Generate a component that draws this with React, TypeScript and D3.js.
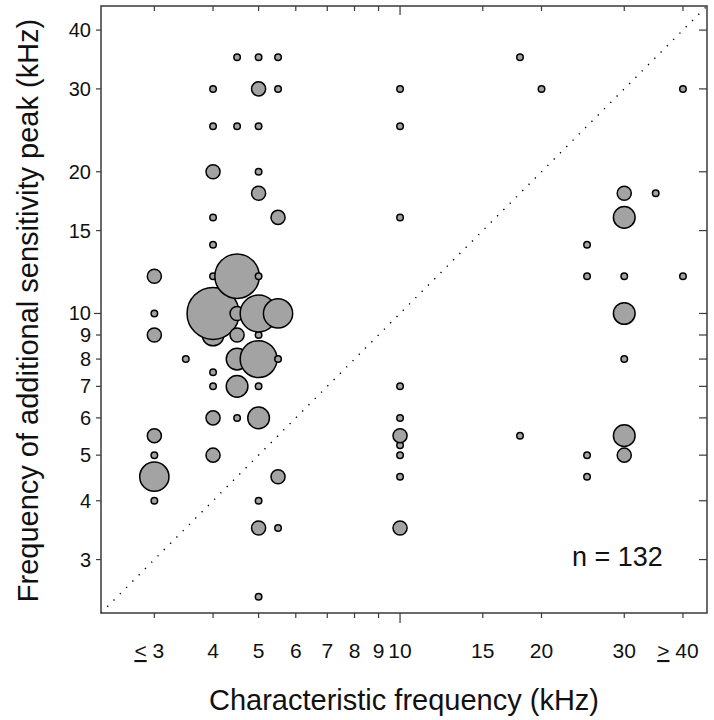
import React from "react";
import * as d3 from "d3";

// Characteristic frequency (kHz), additional peak frequency (kHz), number of units
const cfValues = [
  4.5, 5, 5.5, 4, 5, 5.5, 4, 4.5, 5, 4, 5, 5, 4, 5.5, 4,
  3, 4, 4.5, 5, 3, 4, 4.5, 5, 5.5, 3, 4, 4.5, 5, 3.5, 4.5, 5, 5.5,
  4, 4, 4.5, 5, 4, 4.5, 5, 3, 3, 4, 3, 5.5, 3, 5, 5, 5.5, 5,
  18, 10, 20, 40, 10, 30, 35, 10, 30, 25, 25, 30, 40, 30, 30,
  10, 10, 10, 10, 10, 10, 10, 18, 25, 25, 30, 30,
];
const peakValues = [
  35, 35, 35, 30, 30, 30, 25, 25, 25, 20, 20, 18, 16, 16, 14,
  12, 12, 12, 12, 10, 10, 10, 10, 10, 9, 9, 9, 9, 8, 8, 8, 8,
  7.5, 7, 7, 7, 6, 6, 6, 5.5, 5, 5, 4.5, 4.5, 4, 4, 3.5, 3.5, 2.5,
  35, 30, 30, 30, 25, 18, 18, 16, 16, 14, 12, 12, 12, 10, 8,
  7, 6, 5.5, 5.25, 5, 4.5, 3.5, 5.5, 5, 4.5, 5.5, 5,
];
const unitCounts = [
  1, 1, 1, 1, 2, 1, 1, 1, 1, 2, 1, 2, 1, 2, 1,
  2, 1, 6, 1, 1, 7, 2, 5, 4, 2, 3, 2, 1, 1, 3, 5, 1,
  1, 1, 3, 1, 2, 1, 3, 2, 1, 2, 4, 2, 1, 1, 2, 1, 1,
  1, 1, 1, 1, 1, 2, 1, 1, 3, 1, 1, 1, 1, 3, 1,
  1, 1, 2, 1, 1, 1, 2, 1, 1, 1, 3, 2,
];

const xTickValues = [3, 4, 5, 6, 7, 8, 9, 10, 15, 20, 30, 40];
const xTickLabels = ["3", "4", "5", "6", "7", "8", "9", "10", "15", "20", "30", "40"];
const yTickValues = [3, 4, 5, 6, 7, 8, 9, 10, 15, 20, 30, 40];
const yTickLabels = ["3", "4", "5", "6", "7", "8", "9", "10", "15", "20", "30", "40"];
const totalLabel = "n = 132";

const W = 714;
const H = 720;
const left = 101;
const right = 707;
const top = 6;
const bottom = 613;
const domain: [number, number] = [2.31, 45.0];
const FONT = "'Liberation Sans', Arial, Helvetica, sans-serif";

export default function App() {
  const x = d3.scaleLog().domain(domain).range([left, right]);
  const y = d3.scaleLog().domain(domain).range([bottom, top]);
  const r = d3.scaleLinear().domain([1, 7]).range([3.25, 26.0]);

  const points = cfValues
    .map((cf, i) => ({ cf, peak: peakValues[i], n: unitCounts[i] }))
    .sort((a, b) => a.cf - b.cf || a.peak - b.peak);

  const frameColor = "#3a3a3a";

  return (
    <svg
      width={W}
      height={H}
      style={{ position: "absolute", left: 0, top: 0, background: "#fff" }}
      fontFamily={FONT}
    >
      <rect x={0} y={0} width={W} height={H} fill="#fff" />
      {/* diagonal */}
      <line
        x1={x(domain[0])}
        y1={y(domain[0])}
        x2={x(domain[1])}
        y2={y(domain[1])}
        stroke="#000"
        strokeWidth={1.4}
        strokeDasharray="1.3 7.6"
      />
      {/* points */}
      {points.map((p, i) => (
        <circle
          key={i}
          cx={x(p.cf)}
          cy={y(p.peak)}
          r={r(p.n)}
          fill="#a3a3a3"
          stroke="#000"
          strokeWidth={1.5}
        />
      ))}
      {/* frame */}
      <rect
        x={left}
        y={top}
        width={right - left}
        height={bottom - top}
        fill="none"
        stroke={frameColor}
        strokeWidth={1.5}
      />
      {/* x ticks bottom (outward) and top (inward) */}
      {xTickValues.map((v) => (
        <g key={"xt" + v}>
          <line x1={x(v)} x2={x(v)} y1={bottom} y2={bottom + (v === 10 ? 10 : 5)} stroke={frameColor} strokeWidth={1.2} />
          <line x1={x(v)} x2={x(v)} y1={top} y2={top + (v === 10 ? 9 : 5)} stroke={frameColor} strokeWidth={1.2} />
        </g>
      ))}
      {/* y ticks left (outward) and right (inward) */}
      {yTickValues.map((v) => (
        <g key={"yt" + v}>
          <line x1={left - (v === 10 ? 7 : 5)} x2={left} y1={y(v)} y2={y(v)} stroke={frameColor} strokeWidth={1.2} />
          <line x1={right - 8} x2={right} y1={y(v)} y2={y(v)} stroke={frameColor} strokeWidth={1.2} />
        </g>
      ))}
      {/* x tick labels */}
      {xTickValues.map((v, i) => {
        const lab = xTickLabels[i];
        if (i === 0) {
          return (
            <text key={"xl" + v} x={x(v) - 5} y={658} fontSize={21} textAnchor="middle" fill="#111">
              <tspan textDecoration="underline">&lt;</tspan>
              <tspan> {lab}</tspan>
            </text>
          );
        }
        if (i === xTickValues.length - 1) {
          return (
            <text key={"xl" + v} x={x(v) - 5} y={658} fontSize={21} textAnchor="middle" fill="#111">
              <tspan textDecoration="underline">&gt;</tspan>
              <tspan> {lab}</tspan>
            </text>
          );
        }
        return (
          <text key={"xl" + v} x={x(v)} y={658} fontSize={21} textAnchor="middle" fill="#111">
            {lab}
          </text>
        );
      })}
      {/* y tick labels */}
      {yTickValues.map((v, i) => (
        <text key={"yl" + v} x={91} y={y(v) + 7} fontSize={20} textAnchor="end" fill="#111">
          {yTickLabels[i]}
        </text>
      ))}
      {/* axis titles */}
      <text x={(left + right) / 2} y={710} fontSize={29} textAnchor="middle" fill="#111">
        Characteristic frequency (kHz)
      </text>
      <text
        transform={`translate(38,${(top + bottom) / 2 + 1}) rotate(-90)`}
        fontSize={29}
        textAnchor="middle"
        fill="#111"
      >
        Frequency of additional sensitivity peak (kHz)
      </text>
      <text x={572} y={566} fontSize={27} fill="#111">
        {totalLabel}
      </text>
    </svg>
  );
}
